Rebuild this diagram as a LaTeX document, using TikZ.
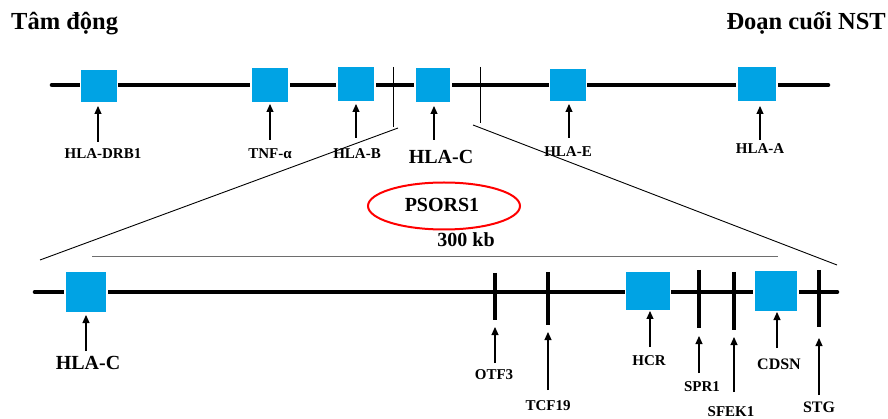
\documentclass[tikz,border=0pt]{standalone}
\usepackage{fontspec}
\setmainfont{Liberation Serif}
\usetikzlibrary{arrows.meta,shapes.geometric}
\definecolor{genecyan}{RGB}{0,163,228}
\definecolor{bargray}{RGB}{110,110,110}
\tikzset{
  gene/.style={rectangle, fill=genecyan, draw=white, line width=1.8pt, inner sep=0pt},
  chrom/.style={line width=4.6pt, line cap=round},
  locus/.style={line width=3.6pt},
  thintick/.style={line width=0.9pt},
  zoomline/.style={line width=0.9pt},
  pointer/.style={line width=1.1pt, -{Triangle[length=8pt,width=7pt]}},
  lab/.style={font=\bfseries\fontsize{15}{17}\selectfont, inner sep=0pt},
  lablg/.style={font=\bfseries\fontsize{16}{18}\selectfont, inner sep=0pt},
  biglab/.style={font=\bfseries\fontsize{20}{22}\selectfont, inner sep=0pt},
  title/.style={font=\bfseries\fontsize{24.5}{27}\selectfont, inner sep=0pt},
}
\begin{document}
\begin{tikzpicture}[x=1pt,y=-1pt]
\useasboundingbox (0,0) rectangle (888,419);
% titles
\node[title, anchor=west] (t1) at (11,24) {Tâm động};
\node[title, anchor=east] (t2) at (886,23) {Đoạn cuối NST};

% top chromosome
\coordinate (tl) at (52,85);
\coordinate (tr) at (828,85);
\draw[chrom] (tl) -- (tr);
\node[gene, minimum width=37pt, minimum height=34pt] (drb1) at (99,86) {};
\node[gene, minimum width=38pt, minimum height=35pt] (tnf) at (270,85) {};
\node[gene, minimum width=38pt, minimum height=35pt] (hlab) at (356,84) {};
\node[gene, minimum width=36pt, minimum height=35pt] (hlac) at (433,85) {};
\node[gene, minimum width=37pt, minimum height=34pt] (hlae) at (568,85) {};
\node[gene, minimum width=40pt, minimum height=36pt] (hlaa) at (757,84) {};

% top labels
\node[lab] (ldrb1) at (103,154) {HLA-DRB1};
\node[lab] (ltnf) at (270,154) {TNF-α};
\node[lab] (lhlab) at (357,154) {HLA-B};
\node[biglab] (lhlac) at (441,157) {HLA-C};
\node[lab] (lhlae) at (568,152) {HLA-E};
\node[lab] (lhlaa) at (760,149) {HLA-A};

\draw[pointer] (98,142) -- (98,106);
\draw[pointer] (270,140) -- (270,104);
\draw[pointer] (356,138) -- (356,104);
\draw[pointer] (434,140) -- (434,106);
\draw[pointer] (569,138) -- (569,104);
\draw[pointer] (760,140) -- (760,106);

% zoom ticks and lines
\coordinate (k1a) at (393,67);
\coordinate (k1b) at (393,127);
\coordinate (k2a) at (480,67);
\coordinate (k2b) at (480,123);
\draw[thintick] (k1a) -- (k1b);
\draw[thintick] (k2a) -- (k2b);
\coordinate (z1a) at (398,128);
\coordinate (z1b) at (40,260);
\coordinate (z2a) at (473,125);
\coordinate (z2b) at (837,265);
\draw[zoomline] (z1a) -- (z1b);
\draw[zoomline] (z2a) -- (z2b);

% PSORS1
\node[ellipse, draw=red, line width=2pt, minimum width=152pt, minimum height=47pt] (ps) at (444,206) {};
\node[biglab] (pstext) at (442,205) {PSORS1};
\node[biglab] (kb) at (466,240) {300 kb};
\coordinate (sb1) at (92,257);
\coordinate (sb2) at (778,257);
\draw[line width=1pt, bargray] (sb1) -- (sb2);

% bottom chromosome
\coordinate (bl) at (35,292);
\coordinate (br) at (837,292);
\draw[chrom] (bl) -- (br);
\node[gene, minimum width=42pt, minimum height=41pt] (bc) at (86,292) {};
\node[gene, minimum width=45pt, minimum height=40pt] (hcr) at (648,291) {};
\node[gene, minimum width=44pt, minimum height=41pt] (cdsn) at (776,291) {};

% thick locus ticks
\coordinate (otfA) at (495,273); \coordinate (otfB) at (495,320);
\coordinate (tcfA) at (548,272); \coordinate (tcfB) at (548,325);
\coordinate (sprA) at (699,270); \coordinate (sprB) at (699,328);
\coordinate (seeA) at (734,272); \coordinate (seeB) at (734,330);
\coordinate (stgA) at (819,270); \coordinate (stgB) at (819,327);
\draw[locus] (otfA) -- (otfB);
\draw[locus] (tcfA) -- (tcfB);
\draw[locus] (sprA) -- (sprB);
\draw[locus] (seeA) -- (seeB);
\draw[locus] (stgA) -- (stgB);

% bottom labels
\node[biglab] (lbc) at (88,363) {HLA-C};
\node[lab] (lotf) at (494,375) {OTF3};
\node[lab] (ltcf) at (548,406) {TCF19};
\node[lab] (lhcr) at (649,361) {HCR};
\node[lab] (lspr) at (702,387) {SPR1};
\node[lab] (lsee) at (731,412) {SFEK1};
\node[lablg] (lcdsn) at (779,364) {CDSN};
\node[lablg] (lstg) at (819,407) {STG};

\draw[pointer] (86,351) -- (86,315);
\draw[pointer] (495,363) -- (495,327);
\draw[pointer] (548,390) -- (548,332);
\draw[pointer] (650,347) -- (650,311);
\draw[pointer] (699,373) -- (699,336);
\draw[pointer] (734,392) -- (734,337);
\draw[pointer] (777,348) -- (777,312);
\draw[pointer] (819,395) -- (819,338);
\end{tikzpicture}
\end{document}
